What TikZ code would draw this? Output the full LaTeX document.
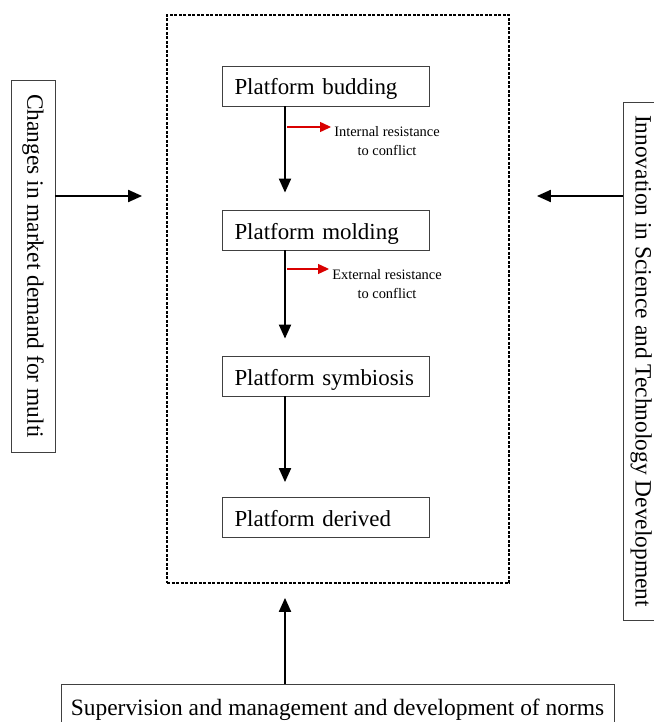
\documentclass[tikz,border=0pt]{standalone}
\usepackage{fontspec}
\setmainfont{Liberation Serif}
\usetikzlibrary{arrows.meta}
\begin{document}
\begin{tikzpicture}[x=1bp,y=-1bp,
  pbox/.style={draw=black!75,line width=0.8bp,minimum height=40bp,text width=183bp,inner xsep=12bp,align=left,text height=18bp,text depth=0bp,font=\fontsize{23}{26}\selectfont},
  sidebox/.style={draw=black!75,line width=0.8bp,minimum height=44bp,font=\fontsize{23.5}{26}\selectfont},
  smalltxt/.style={align=center,inner sep=0pt,font=\fontsize{14.5}{19.5}\selectfont},
  frame/.style={draw,line width=1.8bp,dash pattern=on 3bp off 1.5bp},
  arr/.style={line width=2bp,-{Triangle[length=14bp,width=12bp]}},
  redarr/.style={draw=red!85!black,line width=1.2bp,-{Triangle[length=11bp,width=10bp]}}]
\useasboundingbox (0,0) rectangle (654,722);
\clip (0,0) rectangle (654,722);
% frame
\node[frame,minimum width=342bp,minimum height=568bp,inner sep=0pt] (F) at (338,299) {};
% stages
\node[pbox] (b1) at (326,86) {Platform budding};
\node[pbox] (b2) at (326,230) {Platform molding};
\node[pbox] (b3) at (326,376) {Platform symbiosis};
\node[pbox] (b4) at (326,517.5) {Platform derived};
\coordinate (ax) at (285,0);
\draw[arr] (b1.south -| ax) -- ([yshift=17bp]b2.north -| ax);
\draw[arr] (b2.south -| ax) -- ([yshift=17bp]b3.north -| ax);
\draw[arr] (b3.south -| ax) -- ([yshift=15bp]b4.north -| ax);
% side notes
\node[smalltxt] (t1) at (387,141) {Internal resistance\\to conflict};
\node[smalltxt] (t2) at (387,284) {External resistance\\to conflict};
\coordinate (r1) at (287,127);
\coordinate (r2) at (287,269);
\draw[redarr] (r1) -- ([xshift=-3bp]r1 -| t1.west);
\draw[redarr] (r2) -- ([xshift=-3bp]r2 -| t2.west);
% side boxes
\node[sidebox,rotate=-90,minimum width=372bp] (L) at (33,266) {Changes in market demand for multi};
\node[sidebox,rotate=-90,minimum width=518bp,text height=24bp] (R) at (645,361) {Innovation in Science and Technology Development};
\node[sidebox,minimum width=553bp,text height=18bp,text depth=0bp] (B) at (337.5,706) {Supervision and management and development of norms};
\coordinate (la) at (0,196);
\draw[arr] (L.north |- la) -- ([xshift=-24bp]F.west |- la);
\draw[arr] (R.south |- la) -- ([xshift=27bp]F.east |- la);
\draw[arr] (B.north -| ax) -- ([yshift=-14bp]F.south -| ax);
\end{tikzpicture}
\end{document}
